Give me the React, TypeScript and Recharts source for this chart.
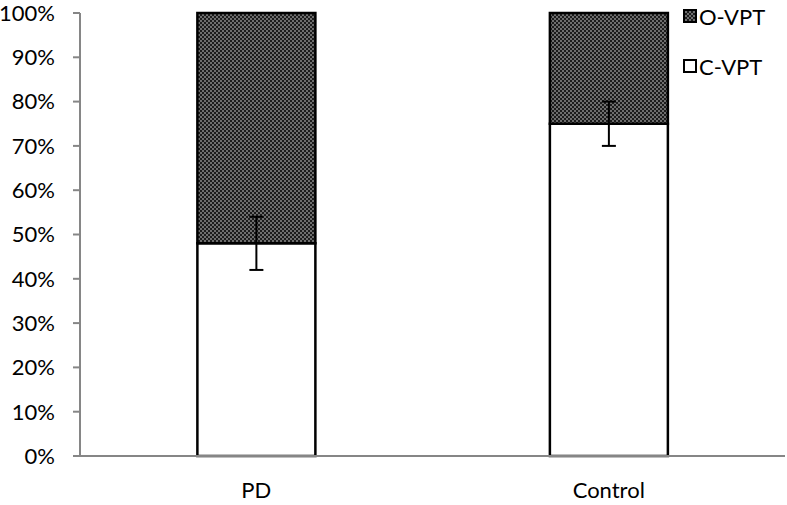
import { Bar, BarChart, ErrorBar, XAxis, YAxis } from 'recharts'

const CATEGORIES = ['PD', 'Control']
const C_VPT = [48, 75]
const O_VPT = [52, 25]
const C_VPT_ERR = [6, 5]
const Y_TICKS = [0, 10, 20, 30, 40, 50, 60, 70, 80, 90, 100]
const LEGEND = ['O-VPT', 'C-VPT']

const AXIS_GRAY = '#868686'
const FONT = 'Lato, "Open Sans", sans-serif'

const data = CATEGORIES.map((name, i) => ({
  name,
  cvpt: C_VPT[i],
  ovpt: O_VPT[i],
  err: C_VPT_ERR[i],
}))

// legend sits over the plot area in the original, so keep it out of recharts' layout
function LegendBox() {
  const fills = ['url(#checker)', '#ffffff']
  return (
    <div style={{ position: 'absolute', left: 683, top: 2, fontFamily: FONT, fontSize: 22, color: '#000' }}>
      {LEGEND.map((label, i) => (
        <div key={label} style={{ display: 'flex', alignItems: 'center', height: 28, marginBottom: 22 }}>
          <svg width={14} height={14} style={{ marginRight: 2 }}>
            <rect x={1} y={1} width={12} height={12} fill={fills[i]} stroke="#000" strokeWidth={2} />
          </svg>
          <span>{label}</span>
        </div>
      ))}
    </div>
  )
}

export default function App() {
  return (
    <div style={{ position: 'fixed', top: 0, left: 0, width: 787, height: 505, background: '#fff' }}>
      <BarChart
        width={787}
        height={505}
        data={data}
        barCategoryGap="33.3%"
        margin={{ top: 13, right: 2, left: 0, bottom: 19 }}
      >
        <defs>
          <pattern id="checker" width={4} height={4} patternUnits="userSpaceOnUse">
            <rect width={4} height={4} fill="#1c1c1c" />
            <rect x={0} y={0} width={2} height={2} fill="#6e6e6e" />
            <rect x={2} y={2} width={2} height={2} fill="#6e6e6e" />
          </pattern>
        </defs>
        <XAxis
          dataKey="name"
          axisLine={{ stroke: AXIS_GRAY, strokeWidth: 2 }}
          tickLine={false}
          height={30}
          tick={{ fontSize: 22, fill: '#000', fontFamily: FONT }}
          tickMargin={20}
        />
        <XAxis
          xAxisId="ticks"
          type="number"
          domain={[0, 2]}
          ticks={[0, 1, 2]}
          axisLine={false}
          tick={false}
          tickLine={{ stroke: AXIS_GRAY, strokeWidth: 2 }}
          tickSize={7}
          height={0}
        />
        <YAxis
          domain={[0, 100]}
          ticks={Y_TICKS}
          interval={0}
          width={80}
          axisLine={{ stroke: AXIS_GRAY, strokeWidth: 2 }}
          tickLine={{ stroke: AXIS_GRAY, strokeWidth: 2 }}
          tickSize={7}
          tickMargin={18}
          tickFormatter={(v) => `${v}%`}
          tick={{ fontSize: 22, fill: '#000', fontFamily: FONT }}
        />
        <Bar dataKey="cvpt" stackId="a" fill="#ffffff" stroke="#000" strokeWidth={2.5} isAnimationActive={false}>
          <ErrorBar dataKey="err" width={7} stroke="#000" strokeWidth={2} direction="y" />
        </Bar>
        <Bar dataKey="ovpt" stackId="a" fill="url(#checker)" stroke="#000" strokeWidth={2.5} isAnimationActive={false} />
      </BarChart>
      <LegendBox />
    </div>
  )
}
